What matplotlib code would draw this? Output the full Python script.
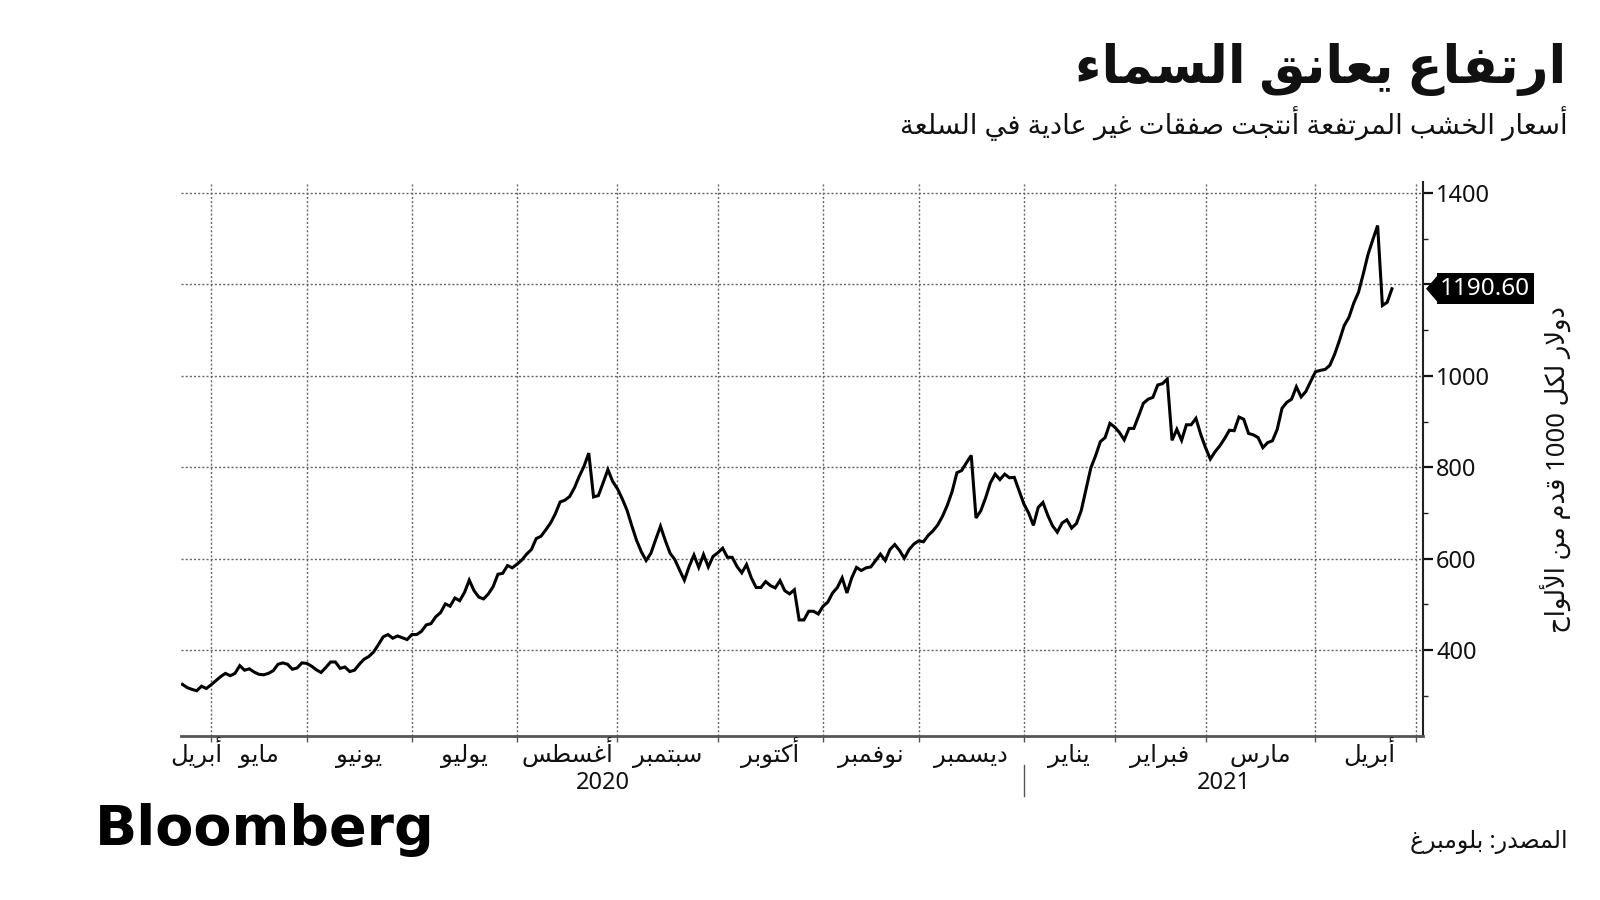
import re
import numpy as np
import pandas as pd
import matplotlib
matplotlib.use('Agg')
import matplotlib.pyplot as plt
import matplotlib.transforms as mtransforms
from matplotlib.patches import Polygon

plt.rcParams['font.family'] = ['Noto Sans', 'DejaVu Sans']

# texts
title = 'ارتفاع يعانق السماء'
subtitle = 'أسعار الخشب المرتفعة أنتجت صفقات غير عادية في السلعة'
y_label = 'دولار لكل 1000 قدم من الألواح'
source = 'المصدر: بلومبرغ'
month_names = ['أبريل', 'مايو', 'يونيو', 'يوليو', 'أغسطس', 'سبتمبر', 'أكتوبر',
               'نوفمبر', 'ديسمبر', 'يناير', 'فبراير', 'مارس', 'أبريل']
years = ['2020', '2021']
y_ticks = [400, 600, 800, 1000, 1200, 1400]
y_minor = [300, 500, 700, 900, 1100, 1300]

# lumber futures, one close per trading session starting 2020-04-23
first_session = '2020-04-23'
holidays = ['2020-05-25', '2020-07-03', '2020-09-07', '2020-11-26', '2020-12-25',
            '2021-01-01', '2021-01-18', '2021-02-15', '2021-04-02']
prices_2020 = [325, 318, 314, 311, 321, 316, 324, 333, 342, 349,
               344, 349, 366, 356, 359, 352, 347, 346, 349, 355,
               369, 372, 369, 358, 361, 372, 371, 365, 357, 351,
               362, 374, 374, 360, 363, 353, 356, 369, 380, 386,
               396, 412, 429, 434, 426, 431, 427, 423, 434, 434,
               441, 455, 458, 473, 482, 501, 496, 514, 508, 526,
               553, 530, 516, 512, 523, 539, 566, 568, 585, 580,
               588, 597, 610, 620, 644, 649, 663, 678, 698, 724,
               728, 736, 755, 780, 802, 831, 735, 738, 766, 795,
               769, 753, 731, 706, 672, 640, 615, 596, 612, 642,
               671, 640, 612, 598, 575, 553, 583, 608, 581, 609,
               582, 605, 613, 623, 603, 603, 583, 569, 587, 558,
               537, 537, 550, 541, 536, 552, 530, 523, 532, 466,
               466, 485, 485, 479, 496, 505, 525, 537, 558, 525,
               558, 581, 574, 580, 582, 596, 610, 596, 620, 631,
               618, 601, 620, 632, 639, 637, 651, 661, 674, 693,
               717, 747, 788, 793, 810, 826, 689, 705, 733, 766,
               785, 773, 785, 777, 778, 749]
prices_2021 = [720, 700, 673, 712, 723, 695, 672, 658, 678, 685,
               667, 677, 705, 752, 798, 825, 856, 865, 896, 888,
               876, 860, 885, 885, 912, 940, 949, 953, 980, 983,
               993, 859, 883, 859, 893, 893, 907, 872, 843, 818,
               834, 847, 863, 881, 880, 910, 905, 874, 871, 865,
               843, 854, 858, 883, 929, 942, 949, 976, 954, 966,
               988, 1009, 1012, 1014, 1023, 1047, 1077, 1110, 1128, 1159,
               1183, 1223, 1266, 1298, 1329, 1154, 1161, 1190.60]

# --- minimal arabic shaping (presentation forms + visual order) ---
AR_FORMS = {
    'ء': (0xFE80, False), 'آ': (0xFE81, False), 'أ': (0xFE83, False), 'إ': (0xFE87, False),
    'ا': (0xFE8D, False), 'ب': (0xFE8F, True), 'ة': (0xFE93, False), 'ت': (0xFE95, True),
    'ث': (0xFE99, True), 'ج': (0xFE9D, True), 'ح': (0xFEA1, True), 'خ': (0xFEA5, True),
    'د': (0xFEA9, False), 'ذ': (0xFEAB, False), 'ر': (0xFEAD, False), 'ز': (0xFEAF, False),
    'س': (0xFEB1, True), 'ش': (0xFEB5, True), 'ص': (0xFEB9, True), 'ض': (0xFEBD, True),
    'ط': (0xFEC1, True), 'ظ': (0xFEC5, True), 'ع': (0xFEC9, True), 'غ': (0xFECD, True),
    'ف': (0xFED1, True), 'ق': (0xFED5, True), 'ك': (0xFED9, True), 'ل': (0xFEDD, True),
    'م': (0xFEE1, True), 'ن': (0xFEE5, True), 'ه': (0xFEE9, True), 'و': (0xFEED, False),
    'ى': (0xFEEF, False), 'ي': (0xFEF1, True),
}
LAM_ALEF = {'ا': 0xFEFB, 'أ': 0xFEF7, 'إ': 0xFEF9, 'آ': 0xFEF5}


def shape(text):
    out = []
    prev_joins = False
    i = 0
    while i < len(text):
        c = text[i]
        nxt = text[i + 1] if i + 1 < len(text) else ''
        if c not in AR_FORMS:
            out.append(c)
            prev_joins = False
            i += 1
            continue
        if c == 'ل' and nxt in LAM_ALEF:
            out.append(chr(LAM_ALEF[nxt] + (1 if prev_joins else 0)))
            prev_joins = False
            i += 2
            continue
        base, dual = AR_FORMS[c]
        if c == 'ء':
            out.append(chr(base))
            prev_joins = False
            i += 1
            continue
        joins_next = dual and nxt in AR_FORMS and nxt != 'ء'
        if prev_joins and joins_next:
            form = 3
        elif joins_next:
            form = 2
        elif prev_joins:
            form = 1
        else:
            form = 0
        out.append(chr(base + form))
        prev_joins = joins_next
        i += 1
    return ''.join(out)


def ar(text):
    runs = re.findall(r'[0-9A-Za-z.]+|[^0-9A-Za-z.]+', shape(text))
    return ''.join(r if re.match(r'[0-9A-Za-z]', r) else r[::-1] for r in reversed(runs))


# sessions -> x positions (trading-day axis)
prices = np.array(prices_2020 + prices_2021, dtype=float)
sessions = pd.bdate_range(first_session, '2021-05-07', freq='C', holidays=holidays)
x = np.arange(len(prices))
months = sessions.to_period('M')
boundaries = [i for i in range(1, len(sessions)) if months[i] != months[i - 1]]
xlim = (-0.2, 259.5)

fig = plt.figure(figsize=(16, 9), dpi=100)
ax = fig.add_axes([0.1134, 0.1822, 0.776, 0.616])

ax.plot(x, prices, color='black', lw=2.2, solid_joinstyle='miter', zorder=3)

ax.set_xlim(*xlim)
ax.set_ylim(212, 1425)

ax.spines['left'].set_visible(False)
ax.spines['top'].set_visible(False)
ax.spines['right'].set_color('#222')
ax.spines['right'].set_linewidth(1.5)
ax.spines['bottom'].set_color('#555')
ax.spines['bottom'].set_linewidth(2)

last = prices[-1]

ax.yaxis.tick_right()
ax.set_yticks(y_ticks)
# the 1200 label sits under the last-value tag
ax.set_yticklabels(['' if t == 1200 else str(t) for t in y_ticks])
ax.set_yticks(y_minor, minor=True)
ax.tick_params(axis='y', which='major', direction='out', length=7, width=1.6,
               pad=2.5, labelsize=17, colors='#111')
ax.tick_params(axis='y', which='minor', direction='out', length=3.5, width=1, color='#222')

# month boundaries as gridlines, month names centred in their spans
edges = [xlim[0]] + boundaries[:12] + [xlim[1]]
centers = [(a + b) / 2 for a, b in zip(edges[:-1], edges[1:])]
ax.set_xticks(boundaries)
ax.tick_params(axis='x', which='major', direction='out', length=4, width=1,
               color='#555', labelbottom=False)

ax.grid(True, which='major', color='#666', lw=1, ls=(0, (1.5, 1.5)))

trans_x = ax.get_xaxis_transform()
for cx, name in zip(centers, month_names):
    ax.text(cx, -0.047, ar(name), transform=trans_x, ha='center', va='baseline',
            fontsize=17.5, color='#111')

# years
jan = boundaries[8]
ax.text((xlim[0] + jan) / 2, -0.085, years[0], transform=trans_x, ha='center',
        va='center', fontsize=17, color='#111')
ax.text((jan + xlim[1]) / 2, -0.085, years[1], transform=trans_x, ha='center',
        va='center', fontsize=17, color='#111')
ax.plot([jan, jan], [-0.052, -0.108], transform=trans_x, color='#555', lw=1,
        clip_on=False)

# last value tag
tag_trans = mtransforms.Affine2D() + mtransforms.ScaledTranslation(1, last, ax.get_yaxis_transform())
ax.add_patch(Polygon([(3, 0), (16, 15), (16, -15)], closed=True, fc='black', ec='none',
                     transform=tag_trans, clip_on=False))
ax.annotate(f'{last:.2f}', xy=(1, last), xycoords=('axes fraction', 'data'),
            xytext=(17, 0), textcoords='offset pixels', ha='left', va='center',
            color='white', fontsize=17.5, annotation_clip=False,
            bbox=dict(boxstyle='square,pad=0.14', fc='black', ec='none'))

# titles and notes
fig.text(0.979, 0.923, ar(title), ha='right', va='center', fontsize=37.3,
         fontweight='bold', color='#111')
fig.text(0.980, 0.863, ar(subtitle), ha='right', va='center', fontsize=19.7, color='#111')
fig.text(0.9725, 0.478, ar(y_label), rotation=90, ha='center', va='center',
         fontsize=18.5, color='#111')
fig.text(0.059, 0.061, 'Bloomberg', ha='left', va='baseline', fontsize=40,
         fontweight='bold', family='DejaVu Sans', color='black')
fig.text(0.980, 0.064, ar(source), ha='right', va='center', fontsize=17, color='#111')

plt.savefig('out.png', dpi=100)
